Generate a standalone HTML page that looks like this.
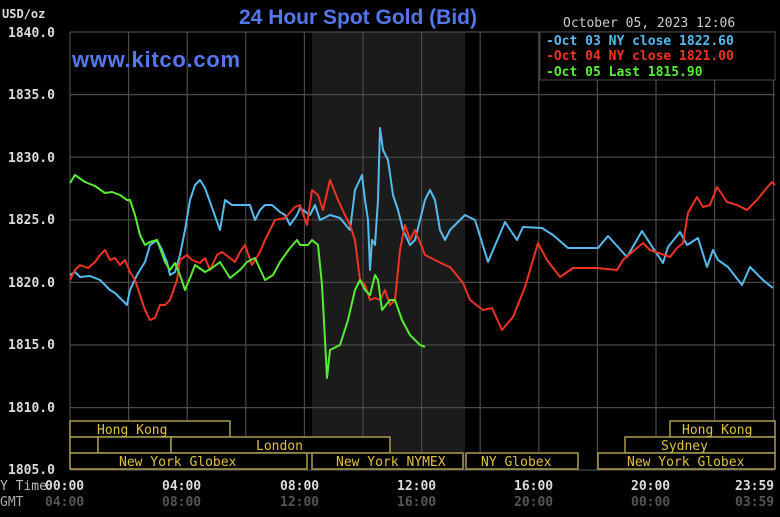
<!DOCTYPE html>
<html><head><meta charset="utf-8"><style>
html,body{margin:0;padding:0;background:#000;}
svg{display:block}
text{font-family:"DejaVu Sans Mono","Liberation Mono",monospace;}
</style></head><body>
<svg width="780" height="517" viewBox="0 0 780 517" xmlns="http://www.w3.org/2000/svg">
<rect width="780" height="517" fill="#000"/>
<rect x="312" y="32" width="153" height="438" fill="#1b1b1b"/>
<g stroke="#4a4a4a" stroke-width="1.2">
<line x1="70" y1="32" x2="775" y2="32"/><line x1="70" y1="94.6" x2="775" y2="94.6"/>
<line x1="70" y1="157.2" x2="775" y2="157.2"/><line x1="70" y1="219.8" x2="775" y2="219.8"/>
<line x1="70" y1="282.4" x2="775" y2="282.4"/><line x1="70" y1="345" x2="775" y2="345"/>
<line x1="70" y1="407.6" x2="775" y2="407.6"/><line x1="70" y1="470" x2="775" y2="470"/>
<line x1="70" y1="32" x2="70" y2="470"/><line x1="128.6" y1="32" x2="128.6" y2="470"/>
<line x1="187.2" y1="32" x2="187.2" y2="470"/><line x1="245.8" y1="32" x2="245.8" y2="470"/>
<line x1="304.4" y1="32" x2="304.4" y2="470"/><line x1="363" y1="32" x2="363" y2="470"/>
<line x1="421.6" y1="32" x2="421.6" y2="470"/><line x1="480.2" y1="32" x2="480.2" y2="470"/>
<line x1="538.8" y1="32" x2="538.8" y2="470"/><line x1="597.4" y1="32" x2="597.4" y2="470"/>
<line x1="656" y1="32" x2="656" y2="470"/><line x1="714.6" y1="32" x2="714.6" y2="470"/>
<line x1="773.5" y1="32" x2="773.5" y2="470"/>
</g>
<g fill="#ddd" font-size="13" font-weight="bold">
<text x="2" y="18" font-size="12">USD/oz</text>
<text x="8" y="37">1840.0</text><text x="8" y="99">1835.0</text><text x="8" y="162">1830.0</text>
<text x="8" y="224">1825.0</text><text x="8" y="287">1820.0</text><text x="8" y="349">1815.0</text>
<text x="8" y="412">1810.0</text><text x="8" y="474">1805.0</text>
</g>
<text x="358" y="24" text-anchor="middle" fill="#5577ee" font-size="21" font-weight="bold" style="font-family:'Liberation Sans',sans-serif">24 Hour Spot Gold (Bid)</text>
<text x="72" y="67" fill="#5577ee" font-size="22" font-weight="bold" textLength="168" style="font-family:'Liberation Sans',sans-serif">www.kitco.com</text>
<text x="563" y="27" fill="#ccc" font-size="13">October 05, 2023 12:06</text>
<rect x="540" y="32" width="235" height="48" fill="#000" stroke="#4a4a4a"/>
<g font-size="13" font-weight="bold">
<text x="546" y="45" fill="#55bbee">-Oct 03 NY close 1822.60</text>
<text x="546" y="60" fill="#ee3322">-Oct 04 NY close 1821.00</text>
<text x="546" y="76" fill="#55ee33">-Oct 05 Last 1815.90</text>
</g>
<g fill="none" stroke-width="2" stroke-linejoin="round">
<polyline stroke="#55bbee" points="70,275 75,272 80,277 90,276 100,280 110,290 115,293 120,298 127,305 130,290 137,275 145,262 150,245 157,240 162,250 167,262 170,275 175,272 180,255 185,230 190,200 195,185 200,180 205,188 210,202 220,230 225,200 232,205 238,205 245,205 250,205 255,220 260,210 265,205 272,205 280,212 285,215 290,225 297,215 300,208 310,215 315,205 320,220 330,215 340,218 350,230 355,190 362,175 365,200 368,220 370,270 372,240 375,245 378,200 380,128 383,150 388,160 393,195 398,210 403,230 410,245 415,240 420,220 425,200 430,190 435,200 440,230 445,240 450,230 465,215 475,220 488,262 505,222 517,240 523,227 542,228 553,235 568,248 598,248 608,236 627,257 642,231 653,248 663,263 668,247 680,232 687,245 698,238 707,267 713,250 718,260 728,267 742,285 750,267 763,280 773,288"/>
<polyline stroke="#ee3322" points="70,280 75,270 80,265 88,268 95,262 100,255 105,250 110,260 115,258 120,265 125,260 130,272 135,280 140,295 145,310 150,320 155,318 160,305 165,305 170,300 177,280 180,260 187,255 192,260 200,263 205,258 210,270 217,255 222,252 230,258 235,262 240,252 245,245 252,265 260,252 265,240 275,220 285,218 295,207 300,205 307,225 312,190 318,195 323,210 330,180 338,200 345,215 350,225 355,240 360,280 365,285 370,300 375,298 380,300 385,290 390,305 395,300 400,250 405,225 410,240 415,230 425,255 435,260 445,265 450,267 463,283 470,300 483,310 492,308 502,330 513,317 525,287 538,243 547,260 560,277 573,268 597,268 617,270 623,260 643,243 650,250 670,257 677,248 683,243 688,213 697,197 703,207 710,205 717,187 727,202 737,205 747,210 757,200 765,190 772,182 775,185"/>
<polyline stroke="#55ee33" points="70,183 75,175 85,182 95,186 105,193 112,192 120,195 127,200 130,200 135,215 140,235 145,245 150,242 157,240 160,248 165,262 170,270 175,263 180,275 185,290 190,278 195,265 205,272 212,268 220,262 225,270 230,278 240,270 247,262 255,258 265,280 273,275 280,262 290,248 297,240 300,245 308,245 312,240 318,245 322,285 325,340 327,378 330,350 340,345 348,320 355,290 360,280 365,290 370,295 375,275 378,280 382,310 386,305 390,300 395,300 402,320 410,335 415,340 420,345 425,347"/>
</g>
<g fill="#000" stroke="#a89a50" stroke-width="1.5">
<rect x="70" y="421" width="160" height="16"/><rect x="670" y="421" width="105" height="16"/>
<rect x="70" y="437" width="28" height="16"/><rect x="98" y="437" width="73" height="16"/>
<rect x="171" y="437" width="219" height="16"/><rect x="625" y="437" width="150" height="16"/>
<rect x="70" y="453" width="237" height="16"/><rect x="312" y="453" width="151" height="16"/>
<rect x="466" y="453" width="112" height="16"/><rect x="598" y="453" width="177" height="16"/>
</g>
<g fill="#e0c040" font-size="13">
<text x="97" y="434">Hong Kong</text><text x="682" y="434">Hong Kong</text>
<text x="256" y="450">London</text><text x="661" y="450">Sydney</text>
<text x="119" y="466">New York Globex</text><text x="336" y="466">New York NYMEX</text>
<text x="481" y="466">NY Globex</text><text x="627" y="466">New York Globex</text>
</g>
<g font-size="13" font-weight="bold" fill="#ddd">
<text x="0" y="490" font-weight="normal" fill="#bbb">Y Time</text>
<text x="45" y="490">00:00</text><text x="162" y="490">04:00</text><text x="280" y="490">08:00</text>
<text x="397" y="490">12:00</text><text x="514" y="490">16:00</text><text x="631" y="490">20:00</text>
<text x="735" y="490">23:59</text>
</g>
<g font-size="13" font-weight="bold" fill="#555">
<text x="0" y="506" font-weight="normal" fill="#aaa">GMT</text>
<text x="45" y="506">04:00</text><text x="162" y="506">08:00</text><text x="280" y="506">12:00</text>
<text x="397" y="506">16:00</text><text x="514" y="506">20:00</text><text x="631" y="506">00:00</text>
<text x="735" y="506">03:59</text>
</g>
</svg>
</body></html>
